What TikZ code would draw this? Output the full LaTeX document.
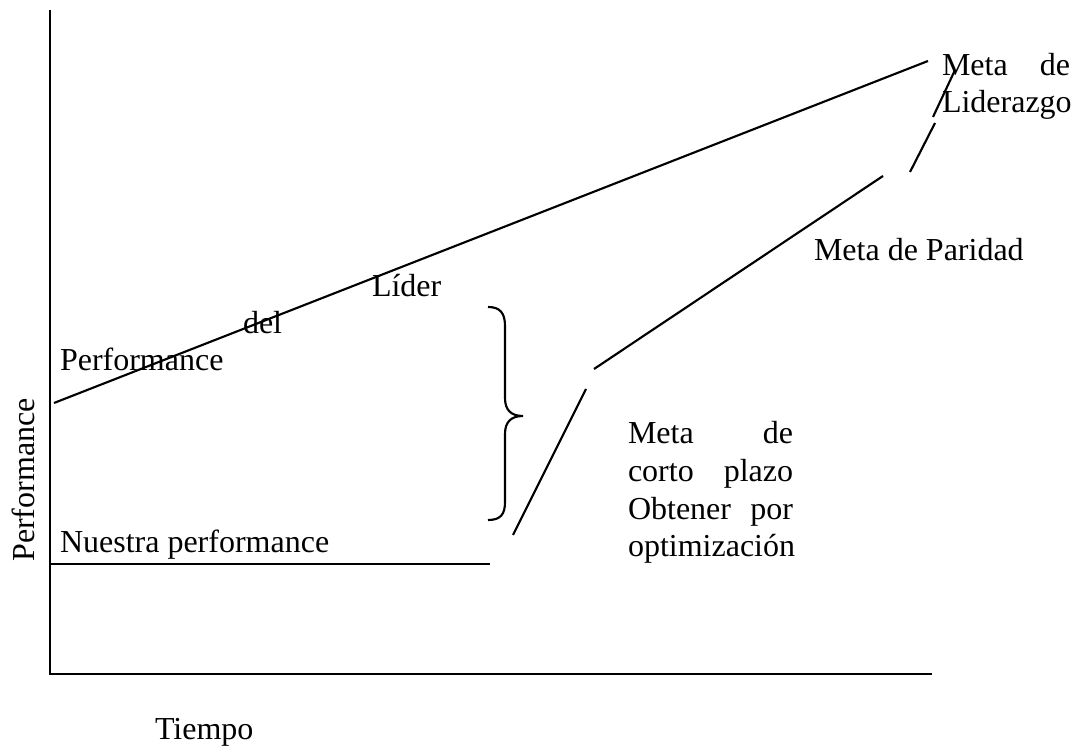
\documentclass[tikz,border=0pt]{standalone}
\usepackage{fontspec}
\setmainfont{Liberation Serif}
\begin{document}
\begin{tikzpicture}[x=0.375pt,y=-0.375pt,
  lbl/.style={inner sep=0pt,outer sep=0pt,font=\fontsize{12}{13.9}\selectfont},
  thinline/.style={line width=0.8pt,line cap=butt},
  axis/.style={line width=1.1pt}]
\useasboundingbox (0,0) rectangle (1076,746);
% axes
\coordinate (ytop) at (50,10);
\coordinate (orig) at (50,674);
\coordinate (xend) at (932,674);
\draw[axis] (ytop) -- (orig) -- (xend);
% lines
\coordinate (l0) at (54,403);
\coordinate (l1) at (928,61);
\draw[thinline] (l0) -- (l1);
\coordinate (n0) at (50,564);
\coordinate (n1) at (490,564);
\draw[thinline] (n0) -- (n1);
\coordinate (a0) at (513,535);
\coordinate (a1) at (586,389);
\draw[thinline] (a0) -- (a1);
\coordinate (b0) at (594,369);
\coordinate (b1) at (883,176);
\draw[thinline] (b0) -- (b1);
\coordinate (c0) at (910,172);
\coordinate (c1) at (935,123);
\draw[thinline] (c0) -- (c1);
\coordinate (d0) at (933,117);
\coordinate (d1) at (955,70);
\draw[thinline] (d0) -- (d1);
% brace
\coordinate (br0) at (488,307);
\coordinate (brt) at (523,416);
\coordinate (br1) at (488,520);
\draw[thinline] (br0) .. controls (500,307) and (505,313) .. (505,326) -- (505,398)
  .. controls (505,410) and (511,416) .. (brt)
  .. controls (511,416) and (505,422) .. (505,434) -- (505,502)
  .. controls (505,515) and (500,520) .. (br1);
% texts
\node[lbl,anchor=base west] (tperf) at (60,371) {Performance};
\node[lbl,anchor=base west] (tdel) at (243,334) {del};
\node[lbl,anchor=base west] (tlider) at (372,297) {Líder};
\node[lbl,anchor=base west] (tnuestra) at (60,553) {Nuestra performance};
\node[lbl,anchor=base west] (tparidad) at (814,261) {Meta de Paridad};
\node[lbl,anchor=base west] (tlid1) at (942,76) {\makebox[48pt][s]{Meta\hfill de}};
\node[lbl,anchor=base west] (tlid2) at (942,113) {Liderazgo};
\node[lbl,anchor=base west] (tc1) at (628,444) {\makebox[61.9pt][s]{Meta\hfill de}};
\node[lbl,anchor=base west] (tc2) at (628,482) {\makebox[61.9pt][s]{corto\hfill plazo}};
\node[lbl,anchor=base west] (tc3) at (628,520) {\makebox[61.9pt][s]{Obtener\hfill por}};
\node[lbl,anchor=base west] (tc4) at (628,557) {optimización};
\node[lbl,rotate=90] (tyaxis) at (23,480) {Performance};
\node[lbl,anchor=base west] (ttiempo) at (155,739) {Tiempo};
\end{tikzpicture}
\end{document}
